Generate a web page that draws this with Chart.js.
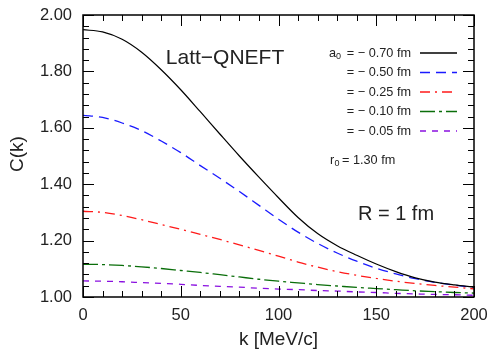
<!DOCTYPE html>
<html>
<head>
<meta charset="utf-8">
<script src="https://cdn.jsdelivr.net/npm/chart.js"></script>
<style>
  body { margin: 0; background: #fff; }
  #wrap { width: 490px; height: 349px; }
</style>
</head>
<body>
<div id="wrap"><canvas id="corr"></canvas></div>
<script>
// momentum grid (MeV/c) and correlation values
const kValues = [0, 10, 20, 30, 40, 50, 60, 70, 80, 90, 100, 110, 120, 130, 140, 150, 160, 170, 180, 190, 200];
const cA070 = [1.948, 1.940, 1.914, 1.868, 1.806, 1.735, 1.657, 1.578, 1.500, 1.425, 1.352, 1.282, 1.225, 1.182, 1.148, 1.117, 1.090, 1.068, 1.053, 1.043, 1.035];
const cA050 = [1.644, 1.637, 1.617, 1.590, 1.553, 1.512, 1.466, 1.421, 1.374, 1.325, 1.276, 1.230, 1.190, 1.156, 1.127, 1.102, 1.082, 1.065, 1.052, 1.042, 1.034];
const cA025 = [1.304, 1.300, 1.289, 1.274, 1.257, 1.240, 1.222, 1.204, 1.185, 1.165, 1.145, 1.124, 1.106, 1.090, 1.077, 1.066, 1.056, 1.048, 1.041, 1.035, 1.029];
const cA010 = [1.116, 1.115, 1.112, 1.107, 1.101, 1.094, 1.087, 1.079, 1.071, 1.063, 1.056, 1.050, 1.044, 1.039, 1.034, 1.030, 1.026, 1.022, 1.019, 1.016, 1.014];
const cA005 = [1.057, 1.056, 1.054, 1.051, 1.048, 1.045, 1.041, 1.038, 1.035, 1.031, 1.028, 1.026, 1.023, 1.021, 1.018, 1.016, 1.013, 1.011, 1.009, 1.008, 1.006];
const legendLabels = ['0.70', '0.50', '0.25', '0.10', '0.05'];
const yTicks = [1.0, 1.2, 1.4, 1.6, 1.8, 2.0];

const styles = [
  { color: '#000000', dash: [], width: 1.2 },
  { color: '#1a1aff', dash: [10, 6], width: 1.3 },
  { color: '#ff1a1a', dash: [10, 5, 2, 5], width: 1.3 },
  { color: '#0a6e0a', dash: [15, 4, 3, 4], width: 1.3 },
  { color: '#8a10e0', dash: [6, 6], width: 1.3 }
];
const series = [cA070, cA050, cA025, cA010, cA005];

function pts(arr) { return kValues.map((k, i) => ({ x: k, y: arr[i] })); }

const txt = '#222';
const fam = '"Liberation Sans", Arial, Helvetica, sans-serif';

// inward ticks, frame, axis titles, legend and annotations
const decor = {
  id: 'decor',
  afterDraw(chart) {
    const c = chart.ctx, a = chart.chartArea;
    const xs = chart.scales.x, ys = chart.scales.y;
    c.save();
    c.strokeStyle = '#000';
    c.lineWidth = 1;
    for (let k = 0; k <= 200; k += 10) {
      const px = Math.round(xs.getPixelForValue(k)) + 0.5;
      const len = k % 50 === 0 ? 11 : 6;
      c.beginPath();
      c.moveTo(px, a.bottom); c.lineTo(px, a.bottom - len);
      c.moveTo(px, a.top); c.lineTo(px, a.top + len);
      c.stroke();
    }
    for (let i = 0; i <= 25; i++) {
      const v = 1 + i * 0.04;
      const py = Math.round(ys.getPixelForValue(v)) + 0.5;
      const len = i % 5 === 0 ? 11 : 6;
      c.beginPath();
      c.moveTo(a.left, py); c.lineTo(a.left + len, py);
      c.moveTo(a.right, py); c.lineTo(a.right - len, py);
      c.stroke();
    }
    c.lineWidth = 1.5;
    c.strokeRect(a.left, a.top, a.right - a.left, a.bottom - a.top);

    // axis titles
    c.fillStyle = txt;
    c.textAlign = 'center';
    c.textBaseline = 'middle';
    c.font = '19px ' + fam;
    c.fillText('k [MeV/c]', (a.left + a.right) / 2, 340);
    c.save();
    c.translate(18, (a.top + a.bottom) / 2 - 2);
    c.rotate(-Math.PI / 2);
    c.fillText('C(k)', 0, 0);
    c.restore();

    // legend
    c.font = '12.7px ' + fam;
    const rowY = [53, 72.5, 92, 111.5, 131];
    legendLabels.forEach((lab, i) => {
      c.textAlign = 'right';
      c.fillText('= \u2212 ' + lab + ' fm', 411, rowY[i]);
      c.beginPath();
      c.strokeStyle = styles[i].color;
      c.lineWidth = 1.5;
      c.setLineDash(styles[i].dash);
      c.moveTo(420, rowY[i]); c.lineTo(457, rowY[i]);
      c.stroke();
      c.setLineDash([]);
    });
    c.textAlign = 'left';
    c.fillText('a', 329, rowY[0]);
    c.font = '9px ' + fam;
    c.fillText('0', 336, rowY[0] + 4);
    c.font = '12.7px ' + fam;
    c.fillText('r', 330, 160);
    c.font = '9px ' + fam;
    c.fillText('0', 334.5, 164);
    c.font = '12.7px ' + fam;
    c.fillText('= 1.30 fm', 342, 160);

    c.font = '21px ' + fam;
    c.textAlign = 'center';
    c.fillText('Latt\u2212QNEFT', 225, 58);
    c.font = '20px ' + fam;
    c.fillText('R = 1 fm', 396, 214);
    c.restore();
  }
};

new Chart(document.getElementById('corr'), {
  type: 'line',
  data: {
    datasets: series.map((s, i) => ({
      label: 'a0 = -' + legendLabels[i] + ' fm',
      data: pts(s),
      borderColor: styles[i].color,
      borderDash: styles[i].dash,
      borderWidth: styles[i].width,
      pointRadius: 0,
      fill: false,
      cubicInterpolationMode: 'monotone'
    }))
  },
  options: {
    responsive: true,
    maintainAspectRatio: false,
    animation: false,
    layout: { autoPadding: false, padding: { top: 15, right: 16, left: 0, bottom: 0 } },
    plugins: { legend: { display: false }, tooltip: { enabled: false } },
    scales: {
      x: {
        type: 'linear', min: 0, max: 200,
        grid: { display: false, drawTicks: false, tickLength: 0 },
        border: { display: false },
        ticks: { stepSize: 50, color: txt, padding: 9, font: { family: fam, size: 16.5 } },
        afterFit(s) { s.height = 52; s.paddingLeft = 0; s.paddingRight = 0; }
      },
      y: {
        min: 1, max: 2,
        grid: { display: false, drawTicks: false, tickLength: 0 },
        border: { display: false },
        afterBuildTicks(s) { s.ticks = yTicks.map(v => ({ value: v })); },
        ticks: { color: txt, padding: 11, font: { family: fam, size: 16.5 }, callback: v => v.toFixed(2) },
        afterFit(s) { s.width = 83; s.paddingTop = 0; s.paddingBottom = 0; }
      }
    }
  },
  plugins: [decor]
});
</script>
</body>
</html>
